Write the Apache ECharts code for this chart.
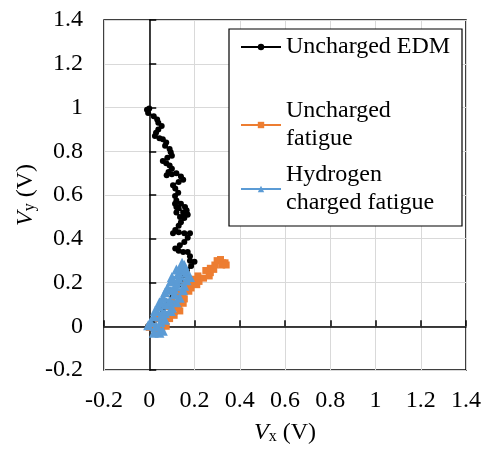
<!DOCTYPE html>
<html>
<head>
<meta charset="utf-8">
<script src="https://cdn.jsdelivr.net/npm/echarts@6/dist/echarts.min.js"></script>
<style>
html,body{margin:0;padding:0;background:#fff;}
#chart{width:486px;height:452px;}
</style>
</head>
<body>
<div id="chart"></div>
<script>
// ---- data ----
var seriesNames = ['Uncharged EDM', 'Uncharged fatigue', 'Hydrogen charged fatigue'];
var legendText = {
  'Uncharged EDM': 'Uncharged EDM',
  'Uncharged fatigue': 'Uncharged\nfatigue',
  'Hydrogen charged fatigue': 'Hydrogen\ncharged fatigue'
};
var axisTicks = [-0.2, 0, 0.2, 0.4, 0.6, 0.8, 1, 1.2, 1.4];

var edmPoints = [
  [-0.01,0.99],[0.0,0.995],[-0.005,0.975],[0.02,0.96],[0.035,0.945],[0.04,0.93],[0.055,0.915],
  [0.04,0.9],[0.03,0.885],[0.025,0.87],[0.045,0.86],[0.06,0.855],[0.075,0.84],[0.07,0.825],
  [0.09,0.81],[0.095,0.795],[0.1,0.78],[0.08,0.77],[0.06,0.755],[0.075,0.745],[0.09,0.735],
  [0.1,0.72],[0.085,0.705],[0.077,0.69],[0.1,0.695],[0.12,0.7],[0.14,0.685],[0.15,0.67],
  [0.13,0.66],[0.105,0.645],[0.115,0.63],[0.128,0.61],[0.114,0.595],[0.12,0.575],[0.14,0.56],
  [0.158,0.545],[0.165,0.53],[0.17,0.51],[0.15,0.5],[0.136,0.5],[0.12,0.52],[0.12,0.545],
  [0.114,0.56],[0.13,0.54],[0.15,0.52],[0.166,0.515],[0.155,0.495],[0.14,0.475],[0.13,0.46],
  [0.115,0.44],[0.105,0.425],[0.13,0.43],[0.155,0.425],[0.18,0.425],[0.17,0.405],[0.155,0.385],
  [0.135,0.37],[0.115,0.355],[0.13,0.345],[0.15,0.34],[0.17,0.34],[0.18,0.32],[0.18,0.3],
  [0.2,0.295],[0.185,0.275],[0.166,0.256],[0.155,0.235],[0.14,0.21],[0.13,0.19],[0.115,0.16],
  [0.1,0.13],[0.08,0.1],[0.06,0.075],[0.04,0.05],[0.025,0.03],[0.01,0.01],[-0.005,0.0]
];
var fatiguePoints = [
  [0.0,-0.005],[0.03,-0.02],[0.055,-0.015],[0.075,0.0],[0.06,0.02],[0.04,0.035],[0.06,0.05],
  [0.09,0.035],[0.11,0.05],[0.135,0.07],[0.12,0.085],[0.09,0.09],[0.1,0.11],[0.13,0.1],
  [0.15,0.105],[0.155,0.125],[0.13,0.14],[0.12,0.155],[0.15,0.15],[0.175,0.16],[0.185,0.175],
  [0.16,0.185],[0.165,0.2],[0.19,0.195],[0.21,0.19],[0.22,0.205],[0.2,0.215],[0.215,0.23],
  [0.24,0.22],[0.265,0.23],[0.27,0.245],[0.25,0.255],[0.27,0.265],[0.285,0.26],[0.29,0.28],
  [0.3,0.3],[0.315,0.305],[0.325,0.29],[0.34,0.28],[0.335,0.29],[0.32,0.28]
];
var hydrogenPoints = [
  [-0.005,0.005],[0.02,-0.03],[0.045,-0.03],[0.06,-0.02],[0.03,0.0],[0.005,0.02],[0.02,0.045],
  [0.05,0.02],[0.07,0.03],[0.055,0.055],[0.025,0.07],[0.04,0.09],[0.07,0.06],[0.095,0.07],
  [0.1,0.085],[0.07,0.1],[0.045,0.11],[0.06,0.13],[0.09,0.115],[0.12,0.11],[0.135,0.13],
  [0.11,0.145],[0.07,0.155],[0.08,0.175],[0.11,0.17],[0.15,0.165],[0.155,0.185],[0.12,0.195],
  [0.095,0.205],[0.1,0.225],[0.13,0.22],[0.165,0.21],[0.18,0.225],[0.165,0.245],[0.13,0.245],
  [0.12,0.26],[0.14,0.27],[0.16,0.265],[0.145,0.29],[0.155,0.28],[0.16,0.255]
];

// ---- chart ----
var FONT = '"Liberation Serif", "Times New Roman", serif';
var chart = echarts.init(document.getElementById('chart'), null, {renderer: 'canvas'});

var cv = document.createElement('canvas').getContext('2d');
cv.font = '24px "Liberation Serif"';
var w1 = cv.measureText(legendText[seriesNames[0]]).width;
var padRight = Math.max(2, 461 - 240 - 45 - w1);

var axMin = axisTicks[0], axMax = axisTicks[axisTicks.length - 1], axStep = axisTicks[1] - axisTicks[0];

function mainAxis(extra) {
  return Object.assign({
    type: 'value', min: axMin, max: axMax, interval: axStep,
    axisLine: {show: false, onZero: false},
    axisTick: {show: false},
    splitLine: {show: true, lineStyle: {color: '#d9d9d9', width: 1}},
    axisLabel: {color: '#000', fontFamily: FONT, fontSize: 24}
  }, extra);
}
function zeroAxis(extra) {
  return Object.assign({
    type: 'value', min: axMin, max: axMax, interval: axStep,
    axisLine: {show: true, onZero: true, lineStyle: {color: '#000', width: 1.5}},
    axisLabel: {show: false},
    splitLine: {show: false}
  }, extra);
}
var titleRich = {
  i: {fontFamily: FONT, fontSize: 24, fontStyle: 'italic', color: '#000'},
  s: {fontFamily: FONT, fontSize: 16, color: '#000', verticalAlign: 'bottom', padding: [6, 0, 0, 0]},
  n: {fontFamily: FONT, fontSize: 24, color: '#000'}
};

var option = {
  animation: false,
  backgroundColor: '#fff',
  grid: {left: 104, right: 20, top: 20, bottom: 82, show: true, borderColor: '#000', borderWidth: 1.5, backgroundColor: 'transparent'},
  xAxis: [
    mainAxis({
      position: 'bottom',
      axisLabel: {color: '#000', fontFamily: FONT, fontSize: 24, margin: 19},
      name: '{i|V}{s|x}{n| (V)}', nameLocation: 'middle', nameGap: 51,
      nameTextStyle: {rich: titleRich}
    }),
    zeroAxis({position: 'bottom', axisTick: {show: true, inside: true, length: 6, lineStyle: {color: '#000', width: 1.5}}})
  ],
  yAxis: [
    mainAxis({
      position: 'left',
      axisLabel: {color: '#000', fontFamily: FONT, fontSize: 24, margin: 21},
      name: '{i|V}{s|y}{n| (V)}', nameLocation: 'middle', nameGap: 66, nameRotate: 90,
      nameMoveOverlap: false,
      nameTextStyle: {rich: titleRich}
    }),
    zeroAxis({position: 'left', axisTick: {show: true, inside: true, length: 7, lineStyle: {color: '#000', width: 1.5}}})
  ],
  legend: [
    {
      data: [seriesNames[0]],
      left: 229, top: 29, orient: 'vertical',
      padding: [4, padRight, 165, 11],
      itemWidth: 40, itemHeight: 8,
      backgroundColor: '#fff', borderColor: '#000', borderWidth: 1.2,
      formatter: function (n) { return legendText[n]; },
      textStyle: {fontFamily: FONT, fontSize: 24, lineHeight: 28, color: '#000'},
      z: 10
    },
    {
      data: [seriesNames[1], seriesNames[2]],
      left: 240, top: 97, orient: 'vertical',
      padding: 0, itemGap: 8,
      itemWidth: 40, itemHeight: 8,
      formatter: function (n) { return legendText[n]; },
      textStyle: {fontFamily: FONT, fontSize: 24, lineHeight: 28, color: '#000'},
      z: 11
    }
  ],
  series: [
    {
      name: seriesNames[0], type: 'line', data: edmPoints,
      xAxisIndex: 0, yAxisIndex: 0,
      symbol: 'circle', symbolSize: 6, showSymbol: true, showAllSymbol: true,
      lineStyle: {color: '#000', width: 2.2},
      itemStyle: {color: '#000'},
      z: 3
    },
    {
      name: seriesNames[1], type: 'line', data: fatiguePoints,
      xAxisIndex: 0, yAxisIndex: 0,
      symbol: 'rect', symbolSize: 7, showSymbol: true, showAllSymbol: true,
      lineStyle: {color: '#ED7D31', width: 3},
      itemStyle: {color: '#ED7D31'},
      z: 4
    },
    {
      name: seriesNames[2], type: 'line', data: hydrogenPoints,
      xAxisIndex: 0, yAxisIndex: 0,
      symbol: 'triangle', symbolSize: 10, showSymbol: true, showAllSymbol: true,
      lineStyle: {color: '#5B9BD5', width: 3},
      itemStyle: {color: '#5B9BD5'},
      z: 5
    }
  ]
};
chart.setOption(option);
</script>
</body>
</html>
